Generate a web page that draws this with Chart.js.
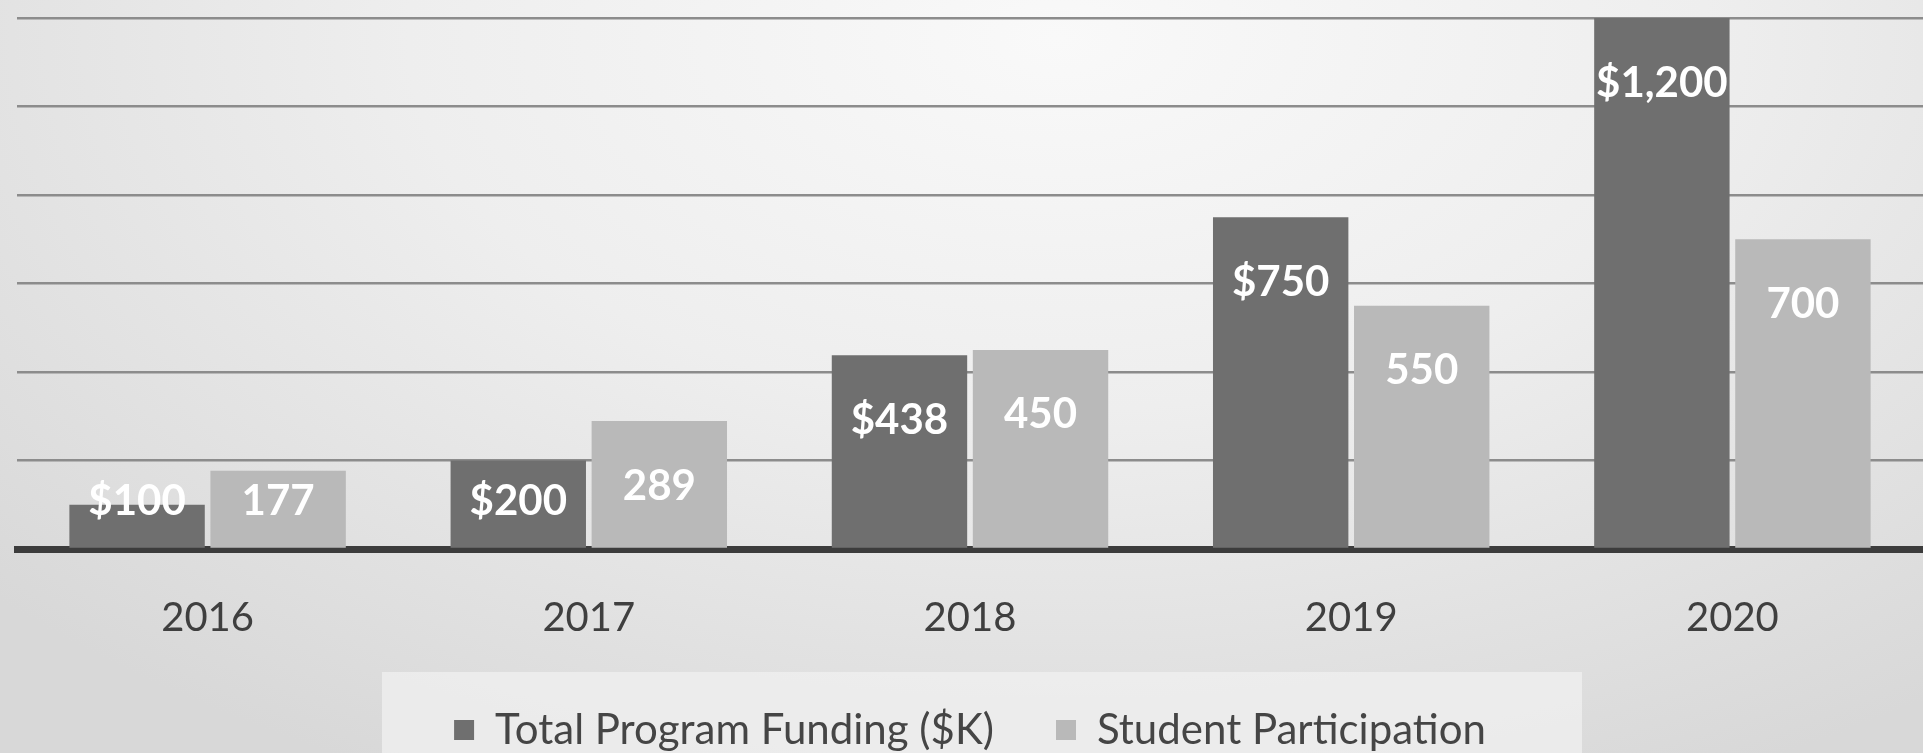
<!DOCTYPE html>
<html>
<head>
<meta charset="utf-8">
<script src="https://cdn.jsdelivr.net/npm/chart.js@4/dist/chart.umd.min.js"></script>
<style>
  html, body { margin: 0; padding: 0; }
  body {
    width: 1923px; height: 753px; overflow: hidden;
    background: radial-gradient(ellipse 75% 110% at 55% 5%, #f9f9f9 0%, #eeeeee 45%, #d8d8d8 100%);
  }
  #wrap { position: relative; width: 1923px; height: 753px; }
</style>
</head>
<body>
<div id="wrap"><canvas id="c" width="1923" height="753"></canvas></div>
<script>
const categories = ['2016', '2017', '2018', '2019', '2020'];
const fundingLabel = 'Total Program Funding ($K)';
const participationLabel = 'Student Participation';
const fundingValues = [100, 200, 438, 750, 1200];
const participationValues = [177, 289, 450, 550, 700];
const yTicks = [0, 200, 400, 600, 800, 1000, 1200];

const FONT = 'Lato, "Open Sans", "DejaVu Sans", sans-serif';

const legendBg = {
  id: 'legendBg',
  beforeDraw(chart) {
    const lg = chart.legend;
    if (!lg) return;
    const ctx = chart.ctx;
    const cx = (lg.left + lg.right) / 2 + 12;
    const top = lg.top + lg.options.labels.padding + 21 - 58;
    ctx.save();
    ctx.fillStyle = 'rgba(240,240,240,0.75)';
    ctx.fillRect(cx - 600, top, 1200, chart.height - top);
    ctx.restore();
  }
};

const barLabels = {
  id: 'barLabels',
  afterDatasetsDraw(chart) {
    const ctx = chart.ctx;
    ctx.save();
    ctx.fillStyle = '#ffffff';
    ctx.font = 'bold 42px ' + FONT;
    ctx.textAlign = 'center';
    ctx.textBaseline = 'middle';
    chart.data.datasets.forEach((ds, di) => {
      const meta = chart.getDatasetMeta(di);
      meta.data.forEach((el, i) => {
        const v = ds.data[i];
        const txt = di === 0 ? '$' + v.toLocaleString('en-US') : String(v);
        const y = Math.min(el.y + 65, el.base - 46);
        ctx.fillText(txt, el.x, y);
      });
    });
    ctx.restore();
  }
};

new Chart(document.getElementById('c'), {
  type: 'bar',
  data: {
    labels: categories,
    datasets: [
      { label: fundingLabel, data: fundingValues, backgroundColor: '#6f6f6f',
        categoryPercentage: 0.74, barPercentage: 0.96 },
      { label: participationLabel, data: participationValues, backgroundColor: '#b9b9b9',
        categoryPercentage: 0.74, barPercentage: 0.96 }
    ]
  },
  options: {
    responsive: false,
    animation: false,
    layout: { padding: { left: 17, right: 0, top: 18, bottom: -8 } },
    scales: {
      x: {
        grid: { display: false, drawTicks: false },
        border: { display: true, color: '#3c3c3c', width: 7 },
        ticks: { color: '#3f3f3f', font: { family: FONT, size: 40 }, padding: 45 },
        afterFit(scale) { scale.height = 98; }
      },
      y: {
        min: 0, max: 1200,
        afterBuildTicks(scale) { scale.ticks = yTicks.map(v => ({ value: v })); },
        grid: { color: '#8c8c8c', lineWidth: 2.5, drawTicks: false },
        border: { display: false },
        ticks: { display: false }
      }
    },
    plugins: {
      legend: {
        position: 'bottom',
        labels: {
          color: '#454545',
          font: { family: FONT, size: 42 },
          boxWidth: 20, boxHeight: 20,
          padding: 62
        }
      },
      tooltip: { enabled: false }
    }
  },
  plugins: [legendBg, barLabels]
});
</script>
</body>
</html>
